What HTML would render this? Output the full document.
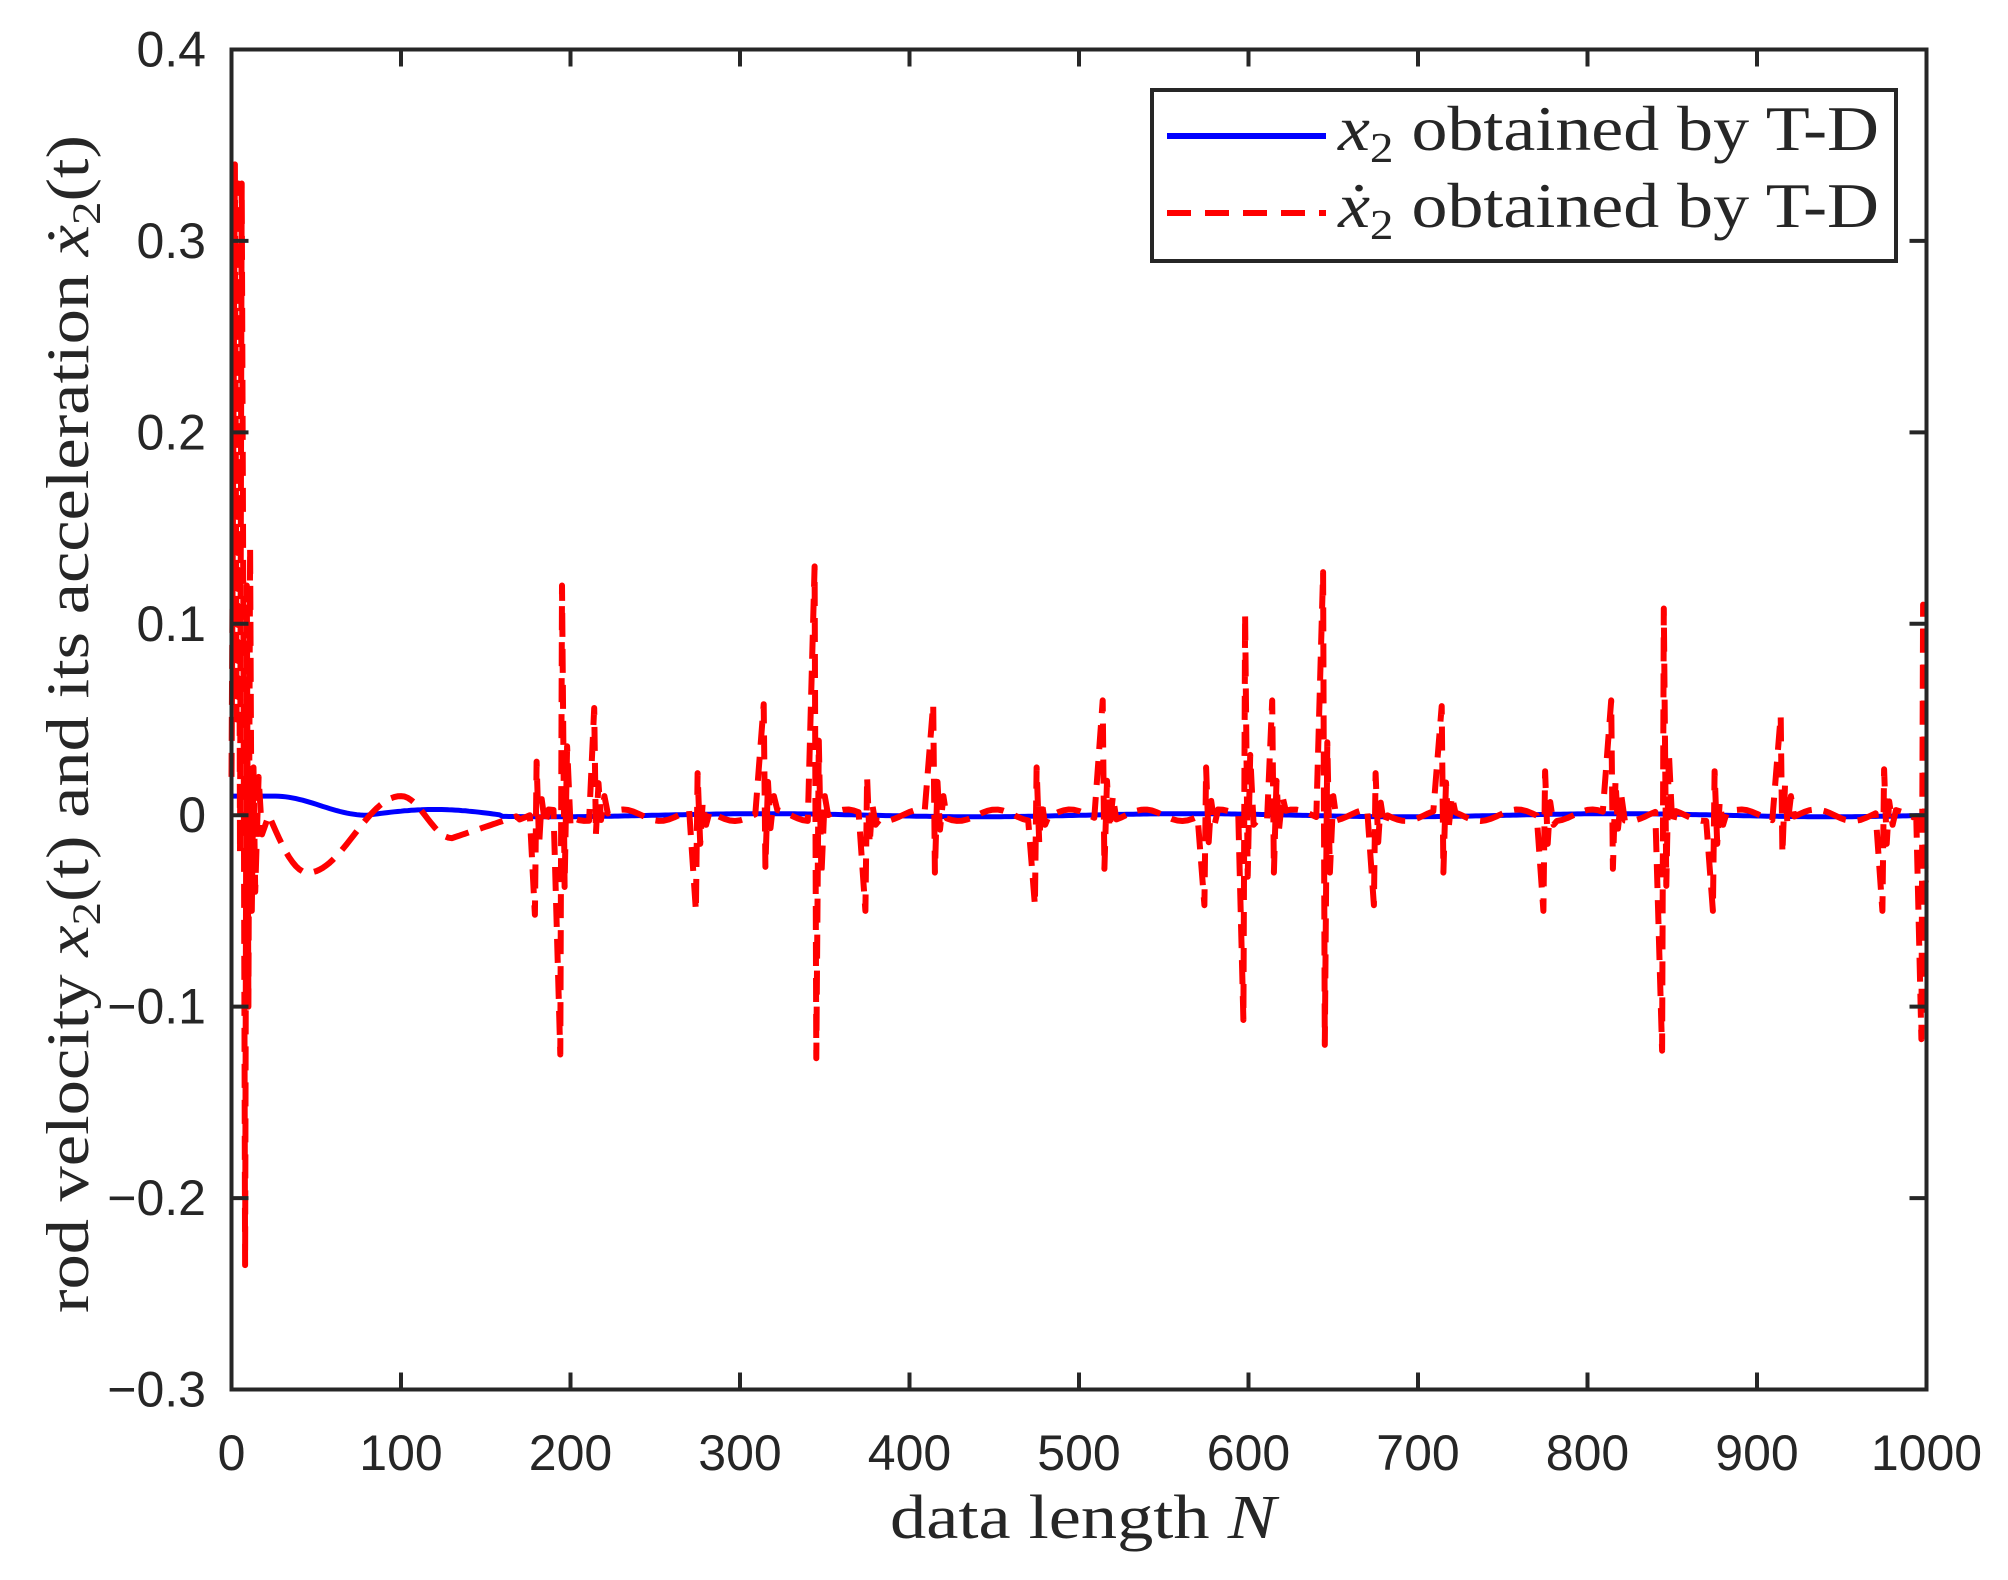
<!DOCTYPE html>
<html><head><meta charset="utf-8"><style>
body{margin:0;background:#fff}
svg text{fill:#262626}
</style></head><body>
<svg id="s" width="2008" height="1575" xmlns="http://www.w3.org/2000/svg">
<rect width="2008" height="1575" fill="#fff"/>
<g id="plot"></g>
<rect x="231.5" y="49.5" width="1695" height="1340" fill="none" stroke="#262626" stroke-width="4"/>
<g id="ticks" stroke="#262626" stroke-width="4"></g>
<g id="labels" font-family="Liberation Sans, sans-serif" font-size="50"></g>
<text x="1083" y="1538" text-anchor="middle" font-family="Liberation Serif, serif" font-size="62" fill="#000" textLength="386" lengthAdjust="spacingAndGlyphs">data length <tspan font-style="italic">N</tspan></text>
<text transform="translate(88,724) rotate(-90)" x="-589" y="0" font-family="Liberation Serif, serif" font-size="60" fill="#000" textLength="1178" lengthAdjust="spacingAndGlyphs">rod velocity <tspan font-style="italic">x</tspan><tspan font-size="40" dy="12">2</tspan><tspan dy="-12">(t)  and its acceleration </tspan><tspan font-style="italic">ẋ</tspan><tspan font-size="40" dy="12">2</tspan><tspan dy="-12">(t)</tspan></text>
<rect x="1152" y="90" width="744" height="171" fill="#fff" stroke="#262626" stroke-width="4"/>
<line x1="1167" y1="136" x2="1326" y2="136" stroke="#0000ff" stroke-width="6"/>
<line x1="1167" y1="213" x2="1326" y2="213" stroke="#ff0000" stroke-width="6" stroke-dasharray="24,14"/>
<text x="1338" y="150" font-family="Liberation Serif, serif" font-size="64" fill="#000" textLength="541" lengthAdjust="spacingAndGlyphs"><tspan font-style="italic">x</tspan><tspan font-size="42" dy="12">2</tspan><tspan dy="-12"> obtained by T-D</tspan></text>
<text x="1338" y="227" font-family="Liberation Serif, serif" font-size="64" fill="#000" textLength="541" lengthAdjust="spacingAndGlyphs"><tspan font-style="italic">ẋ</tspan><tspan font-size="42" dy="12">2</tspan><tspan dy="-12"> obtained by T-D</tspan></text>
</svg>
<script>
const L=231.5,R=1926.5,T=49.5,B=1389.5;
const X=n=>L+(n/1000)*(R-L), Y=v=>T+(0.4-v)/0.7*(B-T);
const NS="http://www.w3.org/2000/svg";
const tk=document.getElementById('ticks'),lb=document.getElementById('labels');
function el(p,t,a,txt){const e=document.createElementNS(NS,t);for(const k in a)e.setAttribute(k,a[k]);if(txt!=null)e.textContent=txt;p.appendChild(e);return e;}
for(let i=0;i<=10;i++){const x=X(i*100);
 el(tk,'line',{x1:x,y1:B,x2:x,y2:B-17});el(tk,'line',{x1:x,y1:T,x2:x,y2:T+17});
 el(lb,'text',{x:x,y:1470,'text-anchor':'middle'},String(i*100));}
for(let i=-3;i<=4;i++){const y=Y(i/10);
 el(tk,'line',{x1:L,y1:y,x2:L+17,y2:y});el(tk,'line',{x1:R,y1:y,x2:R-17,y2:y});
 el(lb,'text',{x:206,y:y+17,'text-anchor':'end'},i==0?'0':(i<0?'−':'')+(Math.abs(i)/10).toFixed(1));}
// blue
let bp=[];
for(let n=0;n<=1000;n+=2){let v;
 if(n<25)v=0.01;else if(n<80)v=0.01*(0.5+0.5*Math.cos(Math.PI*(n-25)/55));else if(n<160)v=0.003*Math.sin(Math.PI*(n-80)/80);else v=0.0008*Math.sin(n/40);
 bp.push(X(n).toFixed(1)+','+Y(v).toFixed(1));}
// red
let pts=[];
const early=[[0,0.02],[2,0.34],[3,0.05],[4,0.33],[5,-0.02],[6,0.33],[7,0.1],[8,-0.235],[9,0.12],[10,-0.1],[11,0.14],[12,-0.05],[13,0.025],[14,-0.04],[16,0.02],[18,-0.01],[22,0.0]];
early.forEach(p=>pts.push(p));
for(let n=24;n<170;n+=2){let v;
 if(n<45)v=-0.03*Math.sin(Math.PI/2*(n-22)/23);
 else if(n<100)v=-0.03+0.04*(1-Math.cos(Math.PI*(n-45)/55))/2;
 else if(n<130)v=0.01-0.022*(1-Math.cos(Math.PI*(n-100)/30))/2;
 else v=-0.012*(1-(n-130)/40);
 pts.push([n,v]);}
const sp=[[180,0.028,-0.052],[195,0.12,-0.125],[215,0.056,-0.01],[275,0.022,-0.05],[315,0.058,-0.027],[345,0.13,-0.127],[375,0.02,-0.05],[415,0.058,-0.03],[475,0.025,-0.047],[515,0.06,-0.028],[575,0.025,-0.047],[598,0.105,-0.107],[615,0.06,-0.03],[645,0.127,-0.12],[675,0.022,-0.047],[715,0.057,-0.03],[775,0.023,-0.05],[815,0.06,-0.028],[845,0.108,-0.123],[875,0.023,-0.05],[915,0.052,-0.02],[975,0.024,-0.05],[998,0.11,-0.117]];
let n=170;
for(const [c,a,b] of sp){
 while(n<c-3){pts.push([n,0.003*Math.sin(n/7)]);n+=3;}
 const upFirst=a>-b||c%100<30;
 if(upFirst){pts.push([c-1,a]);pts.push([c,b]);pts.push([c+1.5,a*0.3]);pts.push([c+3,b*0.25]);pts.push([c+5,0.01]);}
 else{pts.push([c-1,b]);pts.push([c,a]);pts.push([c+1.5,b*0.3]);pts.push([c+3,a*0.3]);pts.push([c+5,-0.005]);}
 n=c+7;
}
while(n<=1000){pts.push([n,0]);n+=3;}
const pl=document.getElementById('plot');
el(pl,'polyline',{points:bp.join(' '),fill:'none',stroke:'#0000ff','stroke-width':5});
el(pl,'polyline',{points:pts.filter(p=>p[0]<=1000).map(p=>X(p[0]).toFixed(1)+','+Y(p[1]).toFixed(1)).join(' '),fill:'none',stroke:'#ff0000','stroke-width':6,'stroke-dasharray':'24,12','stroke-linejoin':'round'});
</script>
</body></html>
